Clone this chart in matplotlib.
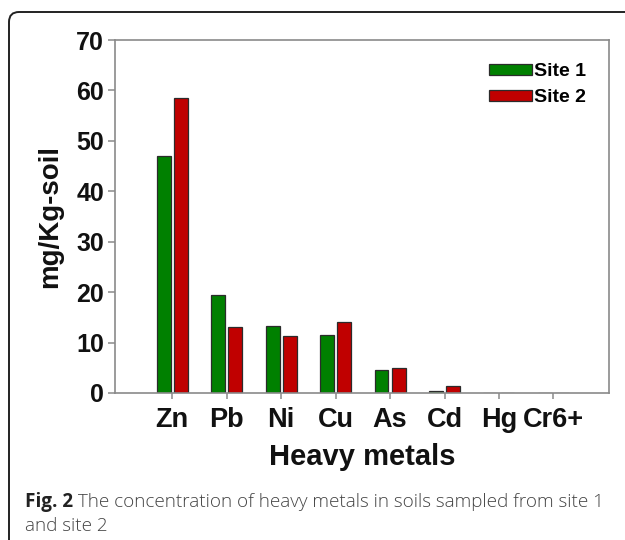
import matplotlib
matplotlib.use("Agg")
import matplotlib.pyplot as plt
import numpy as np
from matplotlib.patches import FancyBboxPatch
from matplotlib.transforms import IdentityTransform

metals = ["Zn", "Pb", "Ni", "Cu", "As", "Cd", "Hg", "Cr6+"]
site1 = [47.0, 19.4, 13.3, 11.6, 4.6, 0.3, 0.0, 0.0]
site2 = [58.4, 13.0, 11.4, 14.1, 5.0, 1.3, 0.0, 0.0]
series_names = ["Site 1", "Site 2"]
yticks = [0, 10, 20, 30, 40, 50, 60, 70]
caption_bold = "Fig. 2"
caption_rest = " The concentration of heavy metals in soils sampled from site 1"
caption_line2 = "and site 2"

fig = plt.figure(figsize=(6.25, 5.4), dpi=100)
ax = fig.add_axes([115/625, 1-393/540, (609-115)/625, (393-40)/540])

x = np.arange(len(metals))
w = 0.255
off = 0.157
ax.bar(x - off, site1, w, color="#008000", edgecolor="#2b2b2b", linewidth=0.9, label=series_names[0])
ax.bar(x + off, site2, w, color="#C00000", edgecolor="#2b2b2b", linewidth=0.9, label=series_names[1])

ax.set_xlim(-1.05, 8.02)
ax.set_ylim(0, 70)
ax.set_yticks(yticks)
ax.set_xticks(x)
ax.set_xticklabels(metals)

sans = ["Liberation Sans", "DejaVu Sans"]
for lab in ax.get_yticklabels():
    lab.set_fontfamily(sans); lab.set_fontweight("bold"); lab.set_fontsize(18)
for lab in ax.get_xticklabels():
    lab.set_fontfamily(sans); lab.set_fontweight("bold"); lab.set_fontsize(19.5)

for s in ax.spines.values():
    s.set_color("#8a8a8a"); s.set_linewidth(1.2)
ax.tick_params(axis="y", length=5, width=1.1, color="#8a8a8a", pad=3, colors="#111111")
ax.tick_params(axis="x", length=4, width=1.1, color="#8a8a8a", pad=6, colors="#111111")
ax.tick_params(axis="both", color="#8a8a8a")

ax.set_xlabel("Heavy metals", fontfamily=sans, fontweight="bold", fontsize=21, labelpad=7, color="#111111")
ax.set_ylabel("mg/Kg-soil", fontfamily=sans, fontweight="bold", fontsize=20, labelpad=9, color="#111111")

leg = ax.legend(loc="upper right", frameon=False, prop={"family": sans, "weight": "bold", "size": 14},
                handlelength=2.2, handleheight=0.5, handletextpad=0.1, labelspacing=0.45,
                borderaxespad=0.8)

# frame
frame = FancyBboxPatch((9, -20), 650, 548, boxstyle="round,pad=0,rounding_size=10",
                       transform=IdentityTransform(), facecolor="none", edgecolor="#222222",
                       linewidth=1.4, figure=fig)
fig.patches.append(frame)

cap_font = ["Open Sans", "DejaVu Sans"]
t1 = fig.text(25/625, 1-507/540, caption_bold, fontfamily=cap_font,
              fontweight="bold", fontsize=13.6, color="#222222", va="baseline")
fig.canvas.draw()
ext = t1.get_window_extent()
fig.text(ext.x1/625, 1-507/540, caption_rest, fontfamily=cap_font,
         fontweight="light", fontsize=13.6, color="#444444", va="baseline")
fig.text(25/625, 1-531/540, caption_line2, fontfamily=cap_font,
         fontweight="light", fontsize=13.6, color="#444444", va="baseline")

fig.savefig("out.png", dpi=100)
